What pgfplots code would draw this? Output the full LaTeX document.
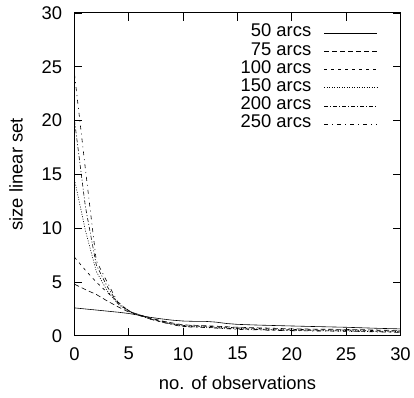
\documentclass[border=0pt]{standalone}
\usepackage{pgfplots}
\pgfplotsset{compat=1.18}
\usepackage{fontspec}
\setmainfont{Liberation Sans}
\begin{document}
\begin{tikzpicture}[font=\fontsize{18.5bp}{22bp}\selectfont]
\begin{axis}[
  scale only axis,
  width=328bp, height=325bp,
  xmin=0, xmax=30, ymin=0, ymax=30,
  xtick={0,5,...,30}, ytick={0,5,...,30},
  tick align=inside, major tick length=8bp,
  tick style={line width=0.8pt, black},
  axis line style={line width=1.1pt},
  /pgf/number format/assume math mode=true,
  xticklabel style={yshift=-8bp},
  yticklabel style={xshift=-9bp},
  xlabel={no. of observations}, ylabel={size linear set},
  xlabel style={yshift=-9bp},
  ylabel style={yshift=12bp},
  legend plot pos=right,
  legend cell align=right,
  legend image code/.code={\draw[#1] (0bp,0bp) -- (53bp,0bp);},
  legend style={draw=none, fill=none, at={(1,1)}, anchor=north east,
     xshift=-23bp, yshift=-11bp, inner sep=0pt, row sep=0pt, column sep=13bp,
     nodes={inner sep=0pt, text height=13bp, text depth=5.3bp}},
  every axis plot/.append style={line width=0.6pt, black},
]
\addplot[solid] coordinates {(0,2.6)(1,2.5)(2,2.4)(3,2.3)(4,2.2)(5,2.08)(6,1.9)(7,1.72)(8,1.58)(9,1.46)(10,1.38)(11,1.35)(12,1.35)(13,1.28)(14,1.15)(15,1.07)(17,1.0)(20,0.92)(22,0.87)(25,0.8)(28,0.7)(30,0.65)};
\addlegendentry{50 arcs}
\addplot[dash pattern=on 5bp off 3bp] coordinates {(0,4.8)(1,4.3)(2,3.85)(3,3.25)(4,2.7)(5,2.2)(6,1.95)(7,1.65)(8,1.4)(9,1.2)(10,1.02)(12,0.95)(15,0.8)(18,0.72)(20,0.65)(25,0.6)(30,0.5)};
\addlegendentry{75 arcs}
\addplot[dash pattern=on 3bp off 4bp] coordinates {(0,7.3)(1,6.1)(2,5.0)(3,4.05)(4,3.15)(5,2.3)(6,1.95)(7,1.62)(8,1.38)(9,1.15)(10,0.97)(12,0.9)(15,0.75)(18,0.65)(20,0.6)(25,0.55)(30,0.45)};
\addlegendentry{100 arcs}
\addplot[dash pattern=on 1bp off 1.5bp] coordinates {(0,14.5)(1,9.8)(2,6.0)(3,4.2)(4,2.95)(5,2.25)(6,1.9)(7,1.58)(8,1.33)(9,1.1)(10,0.92)(12,0.85)(15,0.7)(18,0.6)(20,0.55)(25,0.5)(30,0.4)};
\addlegendentry{150 arcs}
\addplot[dash pattern=on 4bp off 2bp on 1bp off 2bp] coordinates {(0,20.0)(1,12.0)(2,6.6)(3,4.6)(4,3.0)(5,2.3)(6,1.88)(7,1.55)(8,1.3)(9,1.07)(10,0.88)(12,0.8)(15,0.65)(18,0.55)(20,0.5)(25,0.45)(30,0.35)};
\addlegendentry{200 arcs}
\addplot[dash pattern=on 4bp off 4bp on 1bp off 4bp] coordinates {(0,24.3)(1,15.5)(2,7.0)(3,5.0)(4,3.1)(5,2.35)(6,1.9)(7,1.55)(8,1.28)(9,1.05)(10,0.85)(12,0.78)(15,0.6)(18,0.52)(20,0.48)(25,0.42)(30,0.32)};
\addlegendentry{250 arcs}
\end{axis}
\path (current axis.south west) ++(-75bp,-62bp) coordinate (bbsw);
\path (current axis.north east) ++(11bp,13bp) coordinate (bbne);
\path (bbsw) rectangle (bbne);
\end{tikzpicture}
\end{document}
